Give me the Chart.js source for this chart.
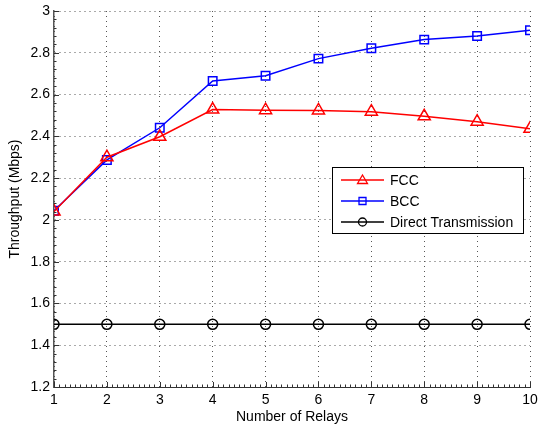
<!DOCTYPE html>
<html>
<head>
<meta charset="utf-8">
<script src="https://cdn.jsdelivr.net/npm/chart.js@4.4.1/dist/chart.umd.min.js"></script>
<style>
  html, body { margin: 0; padding: 0; background: #fff; }
  #wrap { width: 539px; height: 427px; }
</style>
</head>
<body>
<div id="wrap"><canvas id="chart" width="539" height="427"></canvas></div>
<script>
// données
const relays = [1, 2, 3, 4, 5, 6, 7, 8, 9, 10];
const fcc = [2.04, 2.30, 2.398, 2.528, 2.525, 2.524, 2.518, 2.496, 2.47, 2.436];
const bcc = [2.044, 2.287, 2.441, 2.665, 2.69, 2.772, 2.822, 2.863, 2.88, 2.908];
const direct = [1.5, 1.5, 1.5, 1.5, 1.5, 1.5, 1.5, 1.5, 1.5, 1.5];
const seriesNames = ['FCC', 'BCC', 'Direct Transmission'];

const toPts = arr => arr.map((v, i) => ({ x: relays[i], y: v }));
const font = { family: 'Liberation Sans, Arial, sans-serif', size: 14 };

// petits traits de graduation vers l'intérieur (style MATLAB)
const ticksPlugin = {
  id: 'innerTicks',
  afterDatasetsDraw(chart) {
    const { ctx, chartArea: a, scales: { x, y } } = chart;
    ctx.save();
    ctx.strokeStyle = '#333';
    ctx.lineWidth = 1;
    ctx.beginPath();
    for (let v = 1; v <= 10.001; v += 0.1) {
      const px = Math.round(x.getPixelForValue(v)) + 0.5;
      const major = Math.abs(v - Math.round(v)) < 0.01;
      ctx.moveTo(px, a.bottom);
      ctx.lineTo(px, a.bottom - (major ? 5 : 2.5));
    }
    for (let v = 1.2; v <= 3.001; v += 0.04) {
      const py = Math.round(y.getPixelForValue(v)) + 0.5;
      const major = Math.abs(v * 5 - Math.round(v * 5)) < 0.01;
      ctx.moveTo(a.left, py);
      ctx.lineTo(a.left + (major ? 5 : 2.5), py);
    }
    ctx.stroke();
    ctx.restore();
  }
};

// légende encadrée dans la zone du graphe
const legendPlugin = {
  id: 'boxLegend',
  afterDraw(chart) {
    const { ctx } = chart;
    const bx = 332, by = 167, bw = 191, bh = 66;
    ctx.save();
    ctx.fillStyle = '#fff';
    ctx.fillRect(bx, by, bw, bh);
    ctx.strokeStyle = '#000';
    ctx.lineWidth = 1;
    ctx.strokeRect(bx + 0.5, by + 0.5, bw, bh);
    ctx.font = font.size + 'px ' + font.family;
    ctx.textBaseline = 'middle';
    chart.data.datasets.forEach((ds, i) => {
      const cy = by + 13 + i * 21;
      ctx.strokeStyle = ds.borderColor;
      ctx.lineWidth = 1.3;
      ctx.beginPath();
      ctx.moveTo(341, cy);
      ctx.lineTo(384, cy);
      ctx.stroke();
      const mx = 362.5;
      ctx.beginPath();
      if (ds.pointStyle === 'triangle') {
        ctx.moveTo(mx, cy - 5);
        ctx.lineTo(mx + 5, cy + 3.5);
        ctx.lineTo(mx - 5, cy + 3.5);
        ctx.closePath();
      } else if (ds.pointStyle === 'rect') {
        ctx.rect(mx - 3.5, cy - 3.5, 7, 7);
      } else {
        ctx.arc(mx, cy, 4, 0, Math.PI * 2);
      }
      ctx.stroke();
      ctx.fillStyle = '#000';
      ctx.fillText(ds.label, 390, cy + 1);
    });
    ctx.restore();
  }
};

const mkDs = (label, data, color, style, radius) => ({
  label,
  data: toPts(data),
  borderColor: color,
  backgroundColor: 'rgba(0,0,0,0)',
  borderWidth: 1.5,
  pointStyle: style,
  pointRadius: radius,
  pointBorderWidth: 1.5,
  pointBorderColor: color,
  pointBackgroundColor: 'rgba(0,0,0,0)',
  tension: 0
});

new Chart(document.getElementById('chart'), {
  type: 'line',
  data: {
    datasets: [
      mkDs(seriesNames[0], fcc, '#ff0000', 'triangle', 7),
      mkDs(seriesNames[1], bcc, '#0000ff', 'rect', 6),
      mkDs(seriesNames[2], direct, '#000000', 'circle', 5)
    ]
  },
  options: {
    responsive: false,
    animation: false,
    layout: { padding: { top: 11, right: 9, left: 0, bottom: 0 } },
    plugins: {
      legend: { display: false },
      tooltip: { enabled: false }
    },
    scales: {
      x: {
        type: 'linear',
        min: 1,
        max: 10,
        afterFit: s => { s.height = 40; s.paddingLeft = 0; s.paddingRight = 0; },
        ticks: { stepSize: 1, color: '#000', font, padding: 5, maxRotation: 0 },
        grid: { color: '#555', lineWidth: 1, drawTicks: false },
        border: { display: true, color: '#333', width: 1, dash: [1, 4] },
        title: { display: true, text: 'Number of Relays', color: '#000', font, padding: { top: 0, bottom: 1 } }
      },
      y: {
        min: 1.2,
        max: 3,
        afterFit: s => { s.width = 54; s.paddingTop = 0; s.paddingBottom = 0; },
        ticks: {
          stepSize: 0.2,
          color: '#000',
          font,
          padding: 4,
          callback: v => String(+v.toFixed(1))
        },
        grid: { color: '#555', lineWidth: 1, drawTicks: false },
        border: { display: true, color: '#555', width: 1.5, dash: [1, 4] },
        title: { display: true, text: 'Throughput (Mbps)', color: '#000', font, padding: { top: 7, bottom: 0 } }
      }
    }
  },
  plugins: [ticksPlugin, legendPlugin]
});
</script>
</body>
</html>
